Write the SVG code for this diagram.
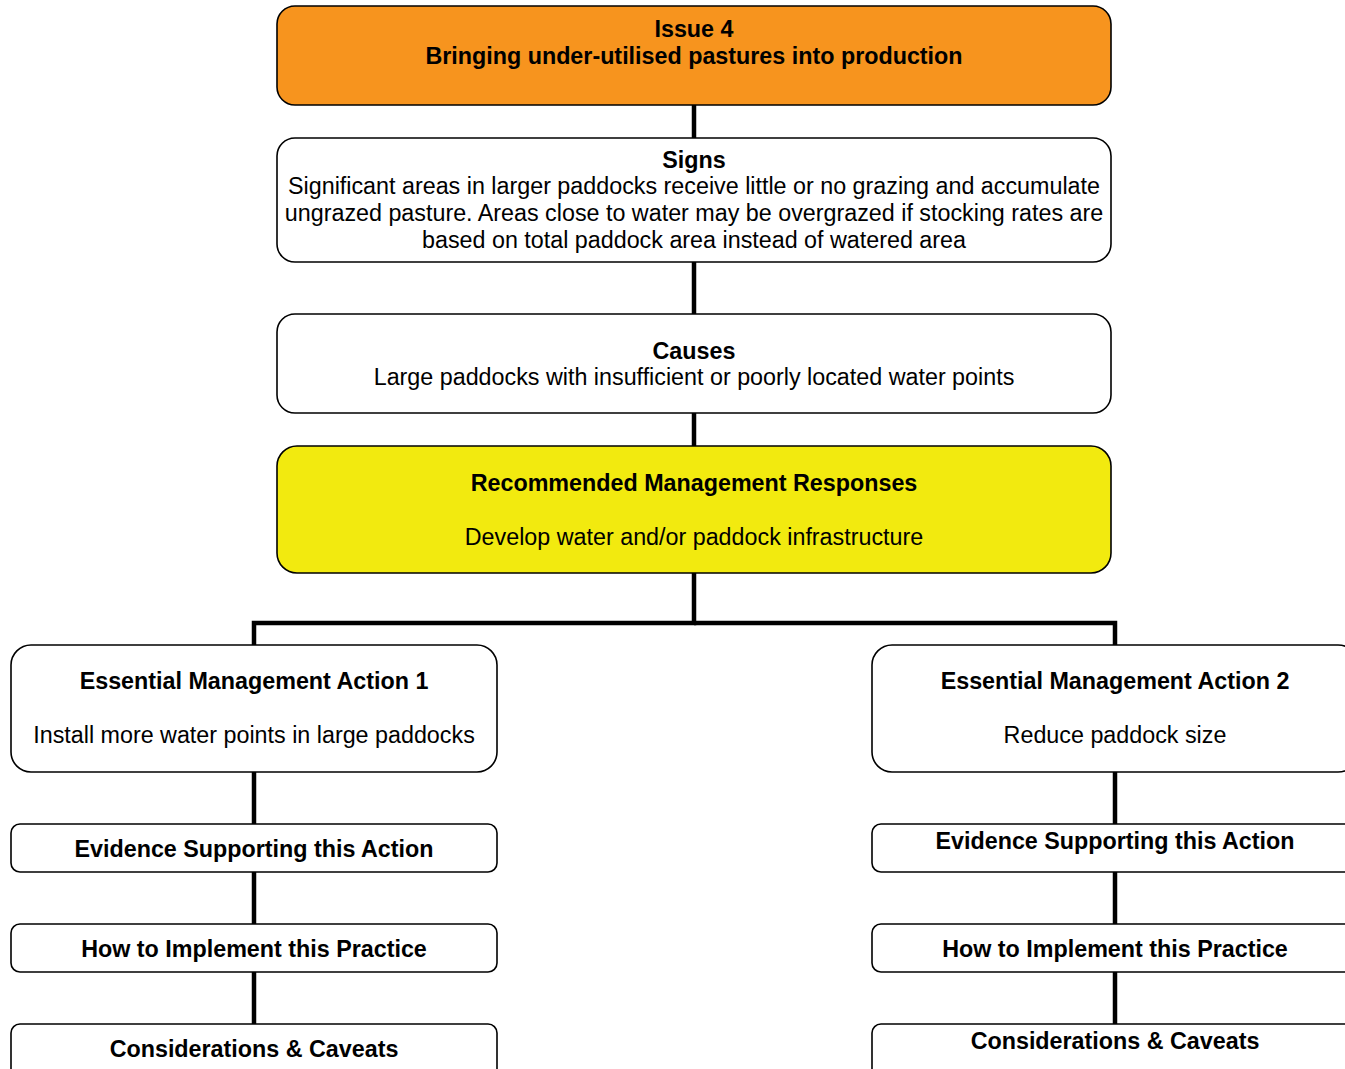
<svg xmlns="http://www.w3.org/2000/svg" width="1345" height="1069" viewBox="0 0 1345 1069">
<style>
.box{fill:#fff;stroke:#000;stroke-width:1.6}
.t{font-family:"Liberation Sans",Arial,sans-serif;font-size:23.3px;text-anchor:middle;fill:#000}
.b{font-weight:bold}
.c{stroke:#000;stroke-width:4.5;fill:none}
</style>
<rect width="1345" height="1069" fill="#fff"/>
<g id="connectors">
<line class="c" x1="694" y1="105" x2="694" y2="138"/>
<line class="c" x1="694" y1="262" x2="694" y2="314"/>
<line class="c" x1="694" y1="413" x2="694" y2="446"/>
<polyline class="c" points="694,573 694,623 254,623 254,645"/>
<polyline class="c" points="694,623 1115,623 1115,645"/>
<line class="c" x1="254" y1="772" x2="254" y2="824"/>
<line class="c" x1="254" y1="872" x2="254" y2="924"/>
<line class="c" x1="254" y1="972" x2="254" y2="1024"/>
<line class="c" x1="1115" y1="772" x2="1115" y2="824"/>
<line class="c" x1="1115" y1="872" x2="1115" y2="924"/>
<line class="c" x1="1115" y1="972" x2="1115" y2="1024"/>
</g>
<g id="issue">
<rect class="box" x="277" y="6" width="834" height="99" rx="18" style="fill:#F7941E"/>
<text class="t b" x="694" y="37">Issue 4</text>
<text class="t b" x="694" y="64">Bringing under-utilised pastures into production</text>
</g>
<g id="signs">
<rect class="box" x="277" y="138" width="834" height="124" rx="18"/>
<text class="t b" x="694" y="168">Signs</text>
<text class="t" x="694" y="194">Significant areas in larger paddocks receive little or no grazing and accumulate</text>
<text class="t" x="694" y="221">ungrazed pasture. Areas close to water may be overgrazed if stocking rates are</text>
<text class="t" x="694" y="248">based on total paddock area instead of watered area</text>
</g>
<g id="causes">
<rect class="box" x="277" y="314" width="834" height="99" rx="18"/>
<text class="t b" x="694" y="359">Causes</text>
<text class="t" x="694" y="385">Large paddocks with insufficient or poorly located water points</text>
</g>
<g id="responses">
<rect class="box" x="277" y="446" width="834" height="127" rx="20" style="fill:#F2EA0F"/>
<text class="t b" x="694" y="491">Recommended Management Responses</text>
<text class="t" x="694" y="545">Develop water and/or paddock infrastructure</text>
</g>
<g id="action1">
<rect class="box" x="11" y="645" width="486" height="127" rx="20"/>
<text class="t b" x="254" y="689">Essential Management Action 1</text>
<text class="t" x="254" y="743">Install more water points in large paddocks</text>
</g>
<g id="action2">
<rect class="box" x="872" y="645" width="486" height="127" rx="20"/>
<text class="t b" x="1115" y="689">Essential Management Action 2</text>
<text class="t" x="1115" y="743">Reduce paddock size</text>
</g>
<g id="evidence1">
<rect class="box" x="11" y="824" width="486" height="48" rx="9"/>
<text class="t b" x="254" y="857">Evidence Supporting this Action</text>
</g>
<g id="evidence2">
<rect class="box" x="872" y="824" width="486" height="48" rx="9"/>
<text class="t b" x="1115" y="849">Evidence Supporting this Action</text>
</g>
<g id="implement1">
<rect class="box" x="11" y="924" width="486" height="48" rx="9"/>
<text class="t b" x="254" y="957">How to Implement this Practice</text>
</g>
<g id="implement2">
<rect class="box" x="872" y="924" width="486" height="48" rx="9"/>
<text class="t b" x="1115" y="957">How to Implement this Practice</text>
</g>
<g id="caveats1">
<rect class="box" x="11" y="1024" width="486" height="60" rx="9"/>
<text class="t b" x="254" y="1057">Considerations &amp; Caveats</text>
</g>
<g id="caveats2">
<rect class="box" x="872" y="1024" width="486" height="60" rx="9"/>
<text class="t b" x="1115" y="1049">Considerations &amp; Caveats</text>
</g>
</svg>
